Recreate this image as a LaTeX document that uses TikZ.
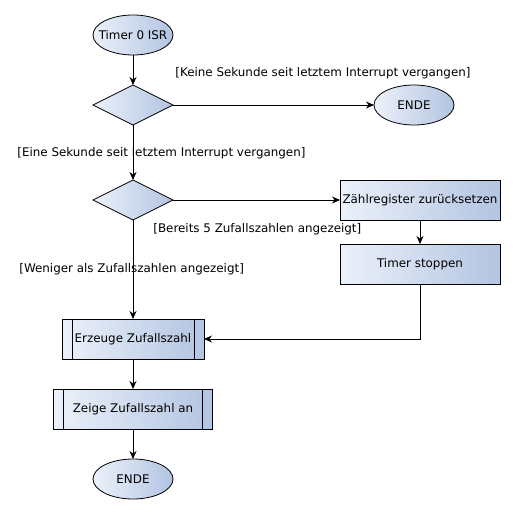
\documentclass[tikz,border=0pt]{standalone}
\usepackage{fontspec}
\setmainfont{DejaVu Sans}
\usetikzlibrary{shapes.geometric,arrows.meta,positioning}
\definecolor{boxleft}{RGB}{236,241,250}
\definecolor{boxright}{RGB}{178,196,225}
\begin{document}
\begin{tikzpicture}[x=1pt, y=-1pt, line width=0.8pt, font=\fontsize{11.9}{14}\selectfont,
shaded/.style={draw, left color=boxleft, right color=boxright, outer sep=0pt},
term/.style={shaded, ellipse, minimum width=80pt, minimum height=40pt, inner xsep=-8pt, inner ysep=0pt},
decide/.style={shaded, diamond, minimum width=80pt, minimum height=40pt, inner sep=0pt},
action/.style={shaded, rectangle, minimum width=160pt, minimum height=40pt, inner xsep=1pt},
sub/.style={shaded, rectangle, minimum height=40pt, inner xsep=1pt},
guard/.style={anchor=west, inner sep=0pt},
arr/.style={-{Stealth[length=8pt,width=7pt]}}]

\useasboundingbox (0,0) rectangle (516,514);

\node[term] (start) at (133,35) {Timer 0 ISR};
\node[decide, below=30pt of start] (sec) {};
\node[term, right=201pt of sec] (ende1) {ENDE};
\node[decide, below=55pt of sec] (five) {};
\node[action, right=167pt of five] (reset) {Zählregister zurücksetzen};
\node[action, below=24pt of reset] (stop) {Timer stoppen};
\node[sub, minimum width=142pt, below=99pt of five] (gen) {Erzeuge Zufallszahl};
\node[sub, minimum width=159pt, below=30pt of gen] (show) {Zeige Zufallszahl an};
\node[term, below=30pt of show] (ende2) {ENDE};

\draw ([xshift=10pt]gen.north west) -- ([xshift=10pt]gen.south west);
\draw ([xshift=-10pt]gen.north east) -- ([xshift=-10pt]gen.south east);
\draw ([xshift=10pt]show.north west) -- ([xshift=10pt]show.south west);
\draw ([xshift=-10pt]show.north east) -- ([xshift=-10pt]show.south east);

\node[guard] (keine) at (175,73) {[Keine Sekunde seit letztem Interrupt vergangen]};
\node[guard] (eine) at (17,153) {[Eine Sekunde seit letztem Interrupt vergangen]};
\node[guard] (bereits) at (153,229) {[Bereits 5 Zufallszahlen angezeigt]};
\node[guard] (weniger) at (19,269) {[Weniger als Zufallszahlen angezeigt]};

\draw[arr] (start) -- (sec);
\draw[arr] (sec) -- (ende1);
\draw[arr] (sec) -- (five);
\draw[arr] (five) -- (reset);
\draw[arr] (reset) -- (stop);
\draw[arr] (stop.south) |- (gen.east);
\draw[arr] (five) -- (gen);
\draw[arr] (gen) -- (show);
\draw[arr] (show) -- (ende2);
\end{tikzpicture}
\end{document}
